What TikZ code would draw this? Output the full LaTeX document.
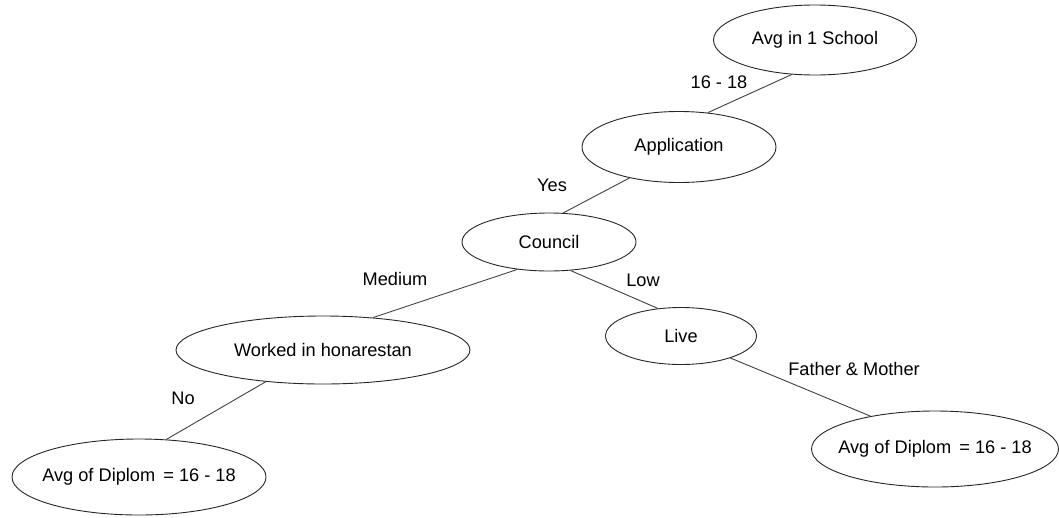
\documentclass[tikz,border=0pt]{standalone}
\usepackage{fontspec}
\setmainfont{Liberation Sans}
\usetikzlibrary{shapes.geometric}
\begin{document}
\begin{tikzpicture}[x=1pt,y=-1pt,
  oval/.style={ellipse,draw=black!85,line width=0.9pt,inner sep=0pt,font=\fontsize{18.2}{21}\selectfont},
  wide/.style={inner xsep=-20pt},
  conn/.style={draw=black!75,line width=0.9pt},
  lbl/.style={inner sep=0pt,font=\fontsize{18.2}{21}\selectfont}]
\useasboundingbox (0,0) rectangle (1059,517);
\node[oval,minimum width=203pt,minimum height=70pt] (avg) at (815,40) {Avg in 1 School};
\node[oval,minimum width=194pt,minimum height=71pt] (app) at (679,147) {Application};
\node[oval,minimum width=174pt,minimum height=58pt] (cou) at (549,242) {Council};
\node[oval,minimum width=294pt,minimum height=68pt] (wor) at (323,350) {Worked in honarestan};
\node[oval,minimum width=151pt,minimum height=57pt] (liv) at (681,336) {Live};
\node[oval,wide,minimum width=254pt,minimum height=76pt] (dl) at (139,477) {Avg of Diplom\, = 16 - 18};
\node[oval,wide,minimum width=247pt,minimum height=76pt] (dr) at (935,449) {Avg of Diplom\, = 16 - 18};
\draw[conn] (avg.-124) -- (app.50);
\draw[conn] (app.212) -- (cou.64);
\draw[conn] (cou.221) -- (wor.33);
\draw[conn] (cou.-53) -- (liv.130);
\draw[conn] (wor.209) -- (dl.54);
\draw[conn] (liv.-24) -- (dr.153);
\node[lbl] (l1) at (719,82) {16 - 18};
\node[lbl] (l2) at (552,185) {Yes};
\node[lbl] (l3) at (643,280) {Low};
\node[lbl] (l4) at (395,279) {Medium};
\node[lbl] (l5) at (183,398) {No};
\node[lbl] (l6) at (854,369) {Father \& Mother};
\end{tikzpicture}
\end{document}
